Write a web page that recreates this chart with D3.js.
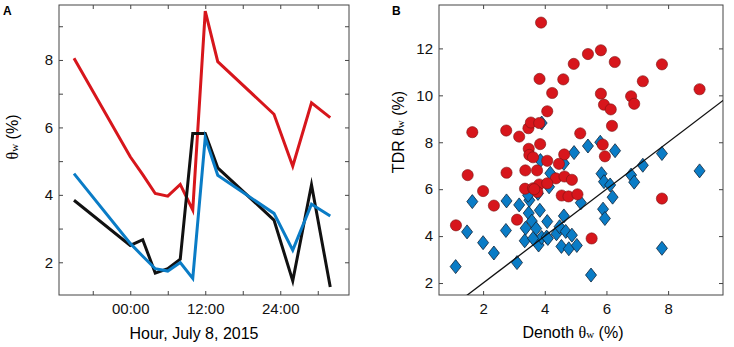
<!DOCTYPE html>
<html>
<head>
<meta charset="utf-8">
<script src="https://cdn.jsdelivr.net/npm/d3@7"></script>
<style>
  body { margin: 0; background: #fff; }
  svg { display: block; font-family: "Liberation Sans", Arial, sans-serif; }
  .tick text { font-size: 15px; fill: #111; }
  .tick line { stroke: #444; }
  .domain { display: none; }
</style>
</head>
<body>
<div id="chart"></div>
<script>
// panel A: hourly series
const hours = [-9, 0, 2, 4, 6, 8, 10, 12, 14, 23, 26, 29, 32];
const redSeries = [8.05, 5.13, 4.6, 4.04, 3.96, 4.31, 3.55, 9.45, 7.95, 6.39, 4.85, 6.73, 6.29];
const blackSeries = [3.84, 2.5, 2.67, 1.68, 1.81, 2.09, 5.82, 5.82, 4.8, 3.25, 1.45, 4.3, 1.27];
const blueSeries = [4.63, 2.56, 2.18, 1.81, 1.74, 1.99, 1.52, 5.7, 4.58, 3.45, 2.36, 3.72, 3.37];
const hourTicks = [-6, 0, 6, 12, 18, 24, 30];
const hourLabels = { 0: "00:00", 12: "12:00", 24: "24:00" };

// panel B: Denoth vs TDR
const redPoints = [
  [3.88, 13.1], [5.4, 11.76], [5.82, 11.92], [4.94, 11.34], [6.27, 11.42], [7.8, 11.32],
  [3.83, 10.7], [4.6, 10.68], [4.24, 10.1], [7.18, 10.6], [9.02, 10.26], [5.82, 10.07],
  [5.92, 9.6], [6.14, 9.4], [6.8, 9.96], [6.9, 9.64], [4.08, 9.32], [6.18, 8.7],
  [1.65, 8.43], [2.75, 8.5], [3.17, 8.24], [3.47, 8.6], [3.55, 8.84], [3.82, 8.82],
  [5.15, 8.38], [3.85, 7.92], [3.48, 7.72], [3.5, 7.46], [3.62, 7.36], [4.63, 7.48],
  [5.88, 7.9], [5.95, 7.4], [4.08, 7.21], [4.46, 7.08], [1.5, 6.6], [2.76, 6.7],
  [3.37, 6.8], [3.75, 6.8], [4.36, 6.46], [4.64, 6.54], [4.88, 6.4], [2.0, 5.92],
  [2.35, 5.3], [3.36, 6.02], [3.62, 6.04], [3.82, 6.2], [4.08, 6.25], [3.76, 5.88],
  [3.66, 6.0], [4.55, 5.73], [4.77, 5.69], [5.06, 5.78], [1.12, 4.46], [3.1, 4.7],
  [5.52, 3.9], [7.8, 5.6]
];
const bluePoints = [
  [1.11, 2.7], [1.48, 4.18], [1.65, 5.47], [2.0, 3.72], [2.35, 3.28], [2.76, 5.5],
  [2.74, 4.24], [3.17, 5.33], [3.1, 2.87], [3.35, 3.8], [3.38, 4.34], [3.48, 4.98],
  [3.5, 5.53], [3.58, 4.64], [3.68, 3.84], [3.72, 4.32], [3.84, 5.1], [3.8, 3.62],
  [3.9, 3.94], [3.78, 5.82], [3.9, 8.82], [4.06, 3.96], [4.08, 4.62], [4.14, 6.1],
  [4.18, 6.68], [3.86, 7.22], [4.38, 4.1], [4.48, 4.4], [4.62, 4.86], [4.54, 3.56],
  [4.68, 4.2], [4.78, 3.46], [4.88, 4.04], [5.04, 3.6], [4.95, 7.56], [5.4, 7.84],
  [5.17, 5.42], [5.5, 2.34], [5.8, 8.0], [5.84, 6.66], [5.92, 6.32], [5.89, 5.15],
  [5.95, 4.75], [6.12, 6.18], [6.2, 5.66], [6.28, 7.64], [6.8, 6.6], [6.9, 6.3],
  [7.18, 7.02], [7.8, 7.52], [7.8, 3.48], [9.02, 6.78], [4.62, 7.1], [3.46, 5.74],
  [3.62, 3.9], [4.1, 3.9]
];
const oneToOne = [0, 14];

const width = 734, height = 347;
const RED = "#d7161c", BLUE = "#0a7cc6";

const svg = d3.select("#chart").append("svg")
  .attr("width", width)
  .attr("height", height);

function frame(g, x, y, w, h, xTicks, yTicks, xFmt, yFmt) {
  g.append("g").attr("transform", `translate(0,${h})`)
    .call(d3.axisBottom(x).tickValues(xTicks).tickSizeInner(-4).tickSizeOuter(0).tickPadding(8).tickFormat(xFmt));
  g.append("g")
    .call(d3.axisTop(x).tickValues(xTicks).tickSizeInner(-4).tickSizeOuter(0).tickFormat(""));
  g.append("g")
    .call(d3.axisLeft(y).tickValues(yTicks).tickSizeInner(-4).tickSizeOuter(0).tickPadding(6).tickFormat(yFmt));
  g.append("g").attr("transform", `translate(${w},0)`)
    .call(d3.axisRight(y).tickValues(yTicks).tickSizeInner(-4).tickSizeOuter(0).tickFormat(""));
  g.append("rect")
    .attr("width", w).attr("height", h)
    .attr("fill", "none").attr("stroke", "#444").attr("stroke-width", 1);
}

// "<before>θw<after>", theta in a serif face, w smaller
function thetaLabel(sel, before, after) {
  if (before) sel.append("tspan").text(before);
  sel.append("tspan").text("θ").style("font-family", "'Liberation Serif', serif");
  sel.append("tspan").text("w").style("font-size", "11px").style("font-family", "'Liberation Serif', serif");
  sel.append("tspan").text(after);
}

// ---------- panel A ----------
const A = { left: 59, top: 5, w: 290, h: 290 };
const gA = svg.append("g").attr("transform", `translate(${A.left},${A.top})`);

const xA = d3.scaleLinear().domain([-11.4, 35]).range([0, A.w]);
const yA = d3.scaleLinear().domain([1.03, 9.63]).range([A.h, 0]);

frame(gA, xA, yA, A.w, A.h, hourTicks, d3.range(2, 10),
  d => hourLabels[d] || "", d => d % 2 === 0 ? d : "");

gA.append("clipPath").attr("id", "clipA")
  .append("rect").attr("width", A.w).attr("height", A.h);

const lineA = d3.line()
  .x(d => xA(d[0]))
  .y(d => yA(d[1]));

[[redSeries, RED], [blackSeries, "#111"], [blueSeries, BLUE]].forEach(([vals, col]) => {
  gA.append("path")
    .datum(d3.zip(hours, vals))
    .attr("clip-path", "url(#clipA)")
    .attr("d", lineA)
    .attr("fill", "none")
    .attr("stroke", col)
    .attr("stroke-width", 3)
    .attr("stroke-linejoin", "miter")
    .attr("stroke-miterlimit", 6);
});

gA.append("text")
  .attr("x", 194 - A.left).attr("y", 339 - A.top)
  .attr("text-anchor", "middle")
  .style("font-size", "16px")
  .text("Hour, July 8, 2015");

gA.append("text")
  .attr("transform", `translate(${18 - A.left},${137 - A.top}) rotate(-90)`)
  .attr("text-anchor", "middle")
  .style("font-size", "16px")
  .call(thetaLabel, "", " (%)");

svg.append("text").attr("x", 3).attr("y", 15)
  .style("font-size", "12px").style("font-weight", "bold").text("A");

// ---------- panel B ----------
const B = { left: 439, top: 5, w: 284, h: 290 };
const gB = svg.append("g").attr("transform", `translate(${B.left},${B.top})`);

const xB = d3.scaleLinear().domain([0.57, 9.78]).range([0, B.w]);
const yB = d3.scaleLinear().domain([1.49, 13.85]).range([B.h, 0]);

frame(gB, xB, yB, B.w, B.h, [2, 4, 6, 8], [2, 4, 6, 8, 10, 12], d => d, d => d);

gB.append("clipPath").attr("id", "clipB")
  .append("rect").attr("width", B.w).attr("height", B.h);

const plotB = gB.append("g").attr("clip-path", "url(#clipB)");

plotB.selectAll(".dia")
  .data(bluePoints)
  .enter().append("path")
  .attr("class", "dia")
  .attr("transform", d => `translate(${xB(d[0])},${yB(d[1])})`)
  .attr("d", "M0,-7L5.5,0L0,7L-5.5,0Z")
  .attr("fill", BLUE)
  .attr("stroke", "#10243a")
  .attr("stroke-width", 0.8);

plotB.selectAll(".dot")
  .data(redPoints)
  .enter().append("circle")
  .attr("class", "dot")
  .attr("cx", d => xB(d[0]))
  .attr("cy", d => yB(d[1]))
  .attr("r", 5.6)
  .attr("fill", RED)
  .attr("stroke", "#7a1414")
  .attr("stroke-width", 0.6);

plotB.append("line")
  .attr("x1", xB(oneToOne[0])).attr("y1", yB(oneToOne[0]))
  .attr("x2", xB(oneToOne[1])).attr("y2", yB(oneToOne[1]))
  .attr("stroke", "#111")
  .attr("stroke-width", 1.3);

gB.append("text")
  .attr("x", 573 - B.left).attr("y", 338 - B.top)
  .attr("text-anchor", "middle")
  .style("font-size", "16px")
  .call(thetaLabel, "Denoth ", " (%)");

gB.append("text")
  .attr("transform", `translate(${404 - B.left},${132 - B.top}) rotate(-90)`)
  .attr("text-anchor", "middle")
  .style("font-size", "16px")
  .call(thetaLabel, "TDR ", " (%)");

svg.append("text").attr("x", 392).attr("y", 15)
  .style("font-size", "12px").style("font-weight", "bold").text("B");
</script>
</body>
</html>
